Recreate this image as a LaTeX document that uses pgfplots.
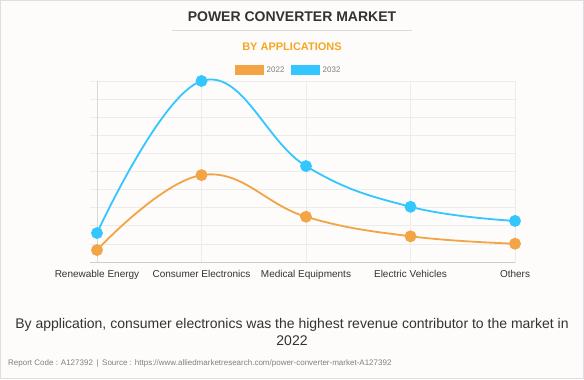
\documentclass[border=0pt]{standalone}
\usepackage{pgfplots}
\pgfplotsset{compat=1.18}
\usepackage{fontspec}
\setmainfont{Liberation Sans}
\definecolor{org}{RGB}{243,164,68}
\definecolor{blu}{RGB}{51,198,255}
\definecolor{bg}{RGB}{253,252,251}
\definecolor{gridc}{RGB}{236,236,236}
\definecolor{titc}{RGB}{51,51,51}
\definecolor{subc}{RGB}{245,166,35}
\begin{document}
\begin{tikzpicture}[x=1bp,y=1bp]
\fill[bg] (0,0) rectangle (584,379);
\draw[gray!25,line width=0.8bp] (0.4,0.4) rectangle (583.6,378.6);
\node[font=\fontsize{14bp}{16bp}\selectfont\bfseries,text=titc] at (292,362) {POWER CONVERTER MARKET};
\draw[gray!30,line width=0.8bp] (172,349) -- (412,349);
\node[font=\fontsize{11bp}{13bp}\selectfont\bfseries,text=subc] at (292,332) {BY APPLICATIONS};
\fill[org] (235,304) rectangle (264,314);
\node[anchor=west,font=\fontsize{8bp}{9bp}\selectfont,text=gray,inner sep=0pt] at (266.5,309) {2022};
\fill[blu] (291,304) rectangle (320,314);
\node[anchor=west,font=\fontsize{8bp}{9bp}\selectfont,text=gray,inner sep=0pt] at (322.5,309) {2032};
\begin{axis}[
  at={(90bp,117bp)}, anchor=south west,
  scale only axis, width=425bp, height=181bp,
  xmin=-0.067, xmax=4, ymin=0, ymax=10,
  xtick={0,1,2,3,4},
  xticklabels={Renewable Energy,Consumer Electronics,Medical Equipments,Electric Vehicles,Others},
  ytick={0,1,...,10}, yticklabels={},
  major tick length=0pt,
  xmajorgrids, ymajorgrids,
  grid style={gridc, line width=0.8bp},
  axis line style={draw=none},
  tick label style={font=\fontsize{10bp}{12bp}\selectfont, text=titc},
  xticklabel style={yshift=-5bp},
  clip=false,
]
\draw[gray!40,line width=0.8bp] (axis cs:-0.067,0) -- (axis cs:4,0);
\draw[gray!30,line width=0.8bp] (axis cs:0,0) -- (axis cs:0,10);
\addplot[org, line width=1.8bp, smooth, tension=0.7, mark=*, mark size=5bp, mark options={fill=org, draw=org}]
  coordinates {(0,0.66) (1,4.8) (2,2.5) (3,1.42) (4,1.01)};
\addplot[blu, line width=1.8bp, smooth, tension=0.7, mark=*, mark size=5bp, mark options={fill=blu, draw=blu}]
  coordinates {(0,1.6) (1,10) (2,5.3) (3,3.05) (4,2.27)};
\end{axis}
\node[font=\fontsize{14bp}{16bp}\selectfont,text=titc] at (292,54) {By application, consumer electronics was the highest revenue contributor to the market in};
\node[font=\fontsize{14bp}{16bp}\selectfont,text=titc] at (292,38) {2022};
\node[anchor=west,font=\fontsize{8bp}{9bp}\selectfont,text=gray,inner sep=0pt] at (8,16) {Report Code : A127392 \,|\, Source : https://www.alliedmarketresearch.com/power-converter-market-A127392};
\end{tikzpicture}
\end{document}
